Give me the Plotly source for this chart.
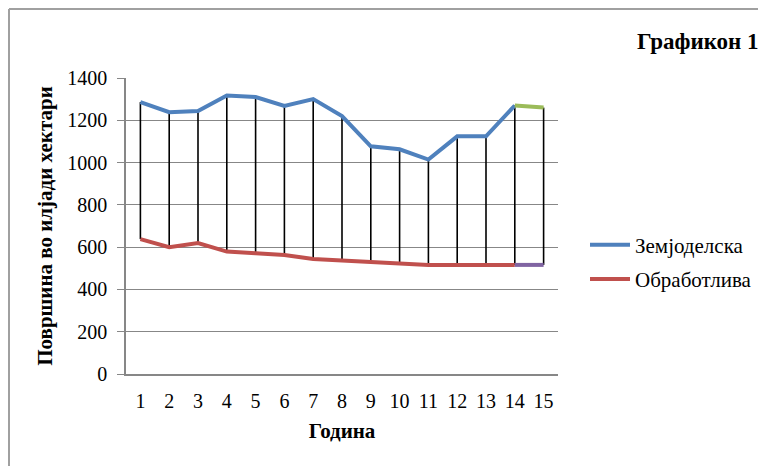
import plotly.graph_objects as go

years = list(range(1, 16))
zemjodelska = [1286, 1238, 1244, 1317, 1310, 1268, 1300, 1220, 1077, 1063, 1014, 1124, 1124, 1270, 1260]
obrabotliva = [638, 600, 619, 579, 571, 563, 544, 536, 530, 524, 516, 516, 516, 516, 516]
y_ticks = [0, 200, 400, 600, 800, 1000, 1200, 1400]

SERIF = "Liberation Serif, Times New Roman, serif"

W, H = 758, 458
L, R, T, B = 118, 208, 70, 92
PW, PH = W - L - R, H - T - B


def px(x):
    return (x - L) / PW


def py(y):
    return (H - B - y) / PH


fig = go.Figure()

# high-low lines
hx, hy = [], []
for x, a, b in zip(years, zemjodelska, obrabotliva):
    hx += [x, x, None]
    hy += [a, b, None]
fig.add_trace(go.Scatter(x=hx, y=hy, mode="lines", line=dict(color="black", width=1.6),
                         showlegend=False, hoverinfo="skip"))

fig.add_trace(go.Scatter(x=years[:14], y=zemjodelska[:14], mode="lines", name="Земјоделска",
                         legendgroup="a", line=dict(color="#4F81BD", width=4)))
fig.add_trace(go.Scatter(x=years[:14], y=obrabotliva[:14], mode="lines", name="Обработлива",
                         legendgroup="b", line=dict(color="#C0504D", width=4)))
fig.add_trace(go.Scatter(x=years[13:], y=zemjodelska[13:], mode="lines", showlegend=False,
                         line=dict(color="#9BBB59", width=4)))
fig.add_trace(go.Scatter(x=years[13:], y=obrabotliva[13:], mode="lines", showlegend=False,
                         line=dict(color="#8064A2", width=4)))

fig.update_layout(
    width=W, height=H,
    margin=dict(l=L, r=R, t=T, b=B, autoexpand=False),
    paper_bgcolor="white", plot_bgcolor="white",
    font=dict(family=SERIF, size=20, color="black"),
    xaxis=dict(range=[0.5, 15.5], tickmode="array", tickvals=years, ticktext=[str(v) for v in years],
               showgrid=False, showline=True, linecolor="#878787", linewidth=1.5,
               ticks="", ticklabelstandoff=8, zeroline=False, tickfont=dict(size=20),
               title=dict(text="<b>Година</b>", font=dict(size=21), standoff=13)),
    yaxis=dict(range=[0, 1400], tickvals=y_ticks, showgrid=True, gridcolor="#878787", gridwidth=1,
               showline=True, linecolor="#878787", linewidth=1.5, ticks="outside", ticklen=7,
               tickcolor="#878787", zeroline=False, tickfont=dict(size=20), ticklabelstandoff=6,
               title=dict(text="<b>Површина во илјади хектари</b>", font=dict(size=21), standoff=9)),
    legend=dict(x=px(577), y=py(254), xanchor="left", yanchor="middle", font=dict(size=21),
                bgcolor="rgba(0,0,0,0)", tracegroupgap=4, itemwidth=40),
    showlegend=True,
)

fig.add_annotation(text="<b>Графикон 1</b>", xref="paper", yref="paper", x=px(753), y=py(34),
                   xanchor="right", yanchor="middle", showarrow=False, font=dict(size=23, family=SERIF))

# chart frame (top and left edges)
fig.add_shape(type="line", xref="paper", yref="paper", x0=px(1), x1=px(W), y0=py(1), y1=py(1),
              line=dict(color="#A0A0A0", width=2))
fig.add_shape(type="line", xref="paper", yref="paper", x0=px(1), x1=px(1), y0=py(1), y1=py(H),
              line=dict(color="#A0A0A0", width=2))

fig.write_html("out.html")
